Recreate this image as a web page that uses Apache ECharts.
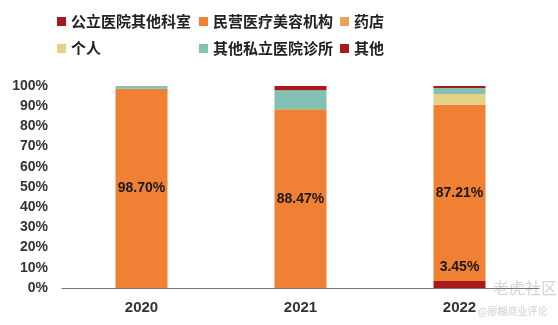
<!DOCTYPE html>
<html><head><meta charset="utf-8">
<script src="https://cdn.jsdelivr.net/npm/echarts@6/dist/echarts.min.js"></script>
<style>html,body{margin:0;padding:0;background:#fff}#c{width:558px;height:325px}</style>
</head><body><div id="c"></div>
<script>
const categories = ['2020', '2021', '2022'];
const publicHospital = [0, 0, 3.45];
const privateAesthetic = [98.70, 88.47, 87.21];
const pharmacy = [0, 0, 0];
const individual = [0, 0, 5.40];
const privateClinic = [1.30, 9.43, 2.90];
const others = [0, 2.10, 1.04];
const yTicks = [0, 10, 20, 30, 40, 50, 60, 70, 80, 90, 100];

const seriesNames = ['公立医院其他科室', '民营医疗美容机构', '药店', '个人', '其他私立医院诊所', '其他'];
const seriesData = [publicHospital, privateAesthetic, pharmacy, individual, privateClinic, others];
const colors = ['#A8191E', '#F08033', '#E9A15E', '#E2D187', '#82C1B3', '#A8191E'];

const labelStyle = {fontFamily: 'Liberation Sans, Arial, sans-serif', fontWeight: 'bold', fontSize: 14, color: '#1a1a1a'};

const series = seriesNames.map((n, i) => ({
  name: n, type: 'bar', stack: 'total', barWidth: 52,
  data: seriesData[i],
  itemStyle: {color: colors[i]},
  label: i === 1 ? Object.assign({show: true, position: 'inside', formatter: p => p.value.toFixed(2) + '%'}, labelStyle)
       : i === 0 ? Object.assign({show: true, position: 'top', distance: 7, formatter: p => p.value > 0 ? p.value.toFixed(2) + '%' : ''}, labelStyle)
       : {show: false}
}));

const legendText = {fontFamily: 'Noto Sans CJK SC', fontSize: 15, fontWeight: 'bold', color: '#222'};
function col(left, names) {
  return {orient: 'vertical', left: left, top: 9, itemWidth: 9, itemHeight: 9, itemGap: 12, icon: 'rect',
          textStyle: legendText, data: names, selectedMode: false};
}

const chart = echarts.init(document.getElementById('c'));
chart.setOption({
  animation: false,
  legend: [
    col(52, [seriesNames[0], seriesNames[3]]),
    col(194, [seriesNames[1], seriesNames[4]]),
    col(335, [seriesNames[2], seriesNames[5]])
  ],
  grid: {left: 62, right: 19, top: 86, bottom: 37},
  xAxis: {
    type: 'category', data: categories,
    axisLine: {lineStyle: {color: '#777', width: 1}},
    axisTick: {inside: true, length: 4, lineStyle: {color: '#555'}},
    axisLabel: {margin: 12, fontFamily: 'Liberation Sans, Arial, sans-serif', fontWeight: 'bold', fontSize: 15, color: '#333'}
  },
  yAxis: {
    type: 'value', min: 0, max: 100, interval: 10,
    axisLine: {show: false}, axisTick: {show: false}, splitLine: {show: false},
    axisLabel: {margin: 14, fontFamily: 'Liberation Sans, Arial, sans-serif', fontWeight: 'bold', fontSize: 14, color: '#333',
      formatter: v => yTicks.includes(v) ? v + '%' : ''}
  },
  graphic: [
    {type: 'text', left: 493, top: 280, style: {text: '老虎社区', fontSize: 16, fill: 'rgba(160,160,160,0.45)', fontFamily: 'Noto Sans CJK SC'}},
    {type: 'text', left: 478, top: 306, style: {text: '@廖糊商业评论', fontSize: 10, fill: 'rgba(160,160,160,0.5)', fontFamily: 'Noto Sans CJK SC'}}
  ],
  series: series
});
</script></body></html>
